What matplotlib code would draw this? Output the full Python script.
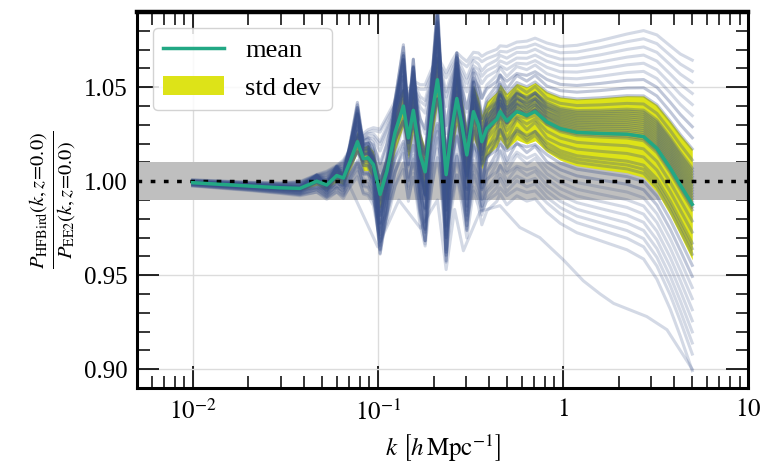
import matplotlib.pyplot as plt
import numpy as np

plt.rcParams['font.family'] = 'serif'
plt.rcParams['font.serif'] = ['Liberation Serif', 'DejaVu Serif']
plt.rcParams['mathtext.fontset'] = 'stix'

# mean ratio, smooth trend and std dev at these k
k_nodes = [0.010, 0.0204, 0.0297, 0.0380, 0.0468, 0.0530, 0.0600, 0.0652, 0.0708, 0.0776,
           0.0836, 0.0886, 0.0947, 0.1029, 0.1118, 0.1240, 0.1375, 0.1463, 0.1556, 0.1693,
           0.1802, 0.1959, 0.2100, 0.2172, 0.2340, 0.2512, 0.2673, 0.2844, 0.3027, 0.3287,
           0.3498, 0.3648, 0.3882, 0.4398, 0.4581, 0.4978, 0.5636, 0.6383, 0.7079, 0.8193,
           0.967, 1.19, 1.59, 2.22, 2.73, 3.22, 3.80, 4.31, 5.00]
mean_ratio = [0.9992, 0.9974, 0.9965, 0.9962, 1.0000, 0.9980, 1.0030, 1.0017, 1.0105, 1.0210,
              1.0120, 1.0125, 1.0088, 0.9930, 1.0050, 1.0260, 1.0400, 1.0230, 1.0377, 1.0140,
              1.0050, 1.0350, 1.0540, 1.0420, 1.0035, 1.0280, 1.0440, 1.0300, 1.0140, 1.0370,
              1.0300, 1.0210, 1.0280, 1.0330, 1.0370, 1.0320, 1.0370, 1.0350, 1.0370, 1.0316,
              1.0280, 1.0260, 1.0254, 1.0250, 1.0237, 1.0175, 1.0070, 0.9980, 0.9877]
trend_ratio = [0.9992, 0.9974, 0.9965, 0.9965, 0.9980, 0.9990, 1.0000, 1.0020, 1.0040, 1.0060,
               1.0080, 1.0090, 1.0100, 1.0110, 1.0130, 1.0150, 1.0170, 1.0180, 1.0190, 1.0210,
               1.0220, 1.0240, 1.0250, 1.0260, 1.0270, 1.0280, 1.0290, 1.0290, 1.0300, 1.0300,
               1.0310, 1.0310, 1.0310, 1.0320, 1.0330, 1.0335, 1.0345, 1.0350, 1.0355, 1.0320,
               1.0280, 1.0260, 1.0254, 1.0250, 1.0237, 1.0175, 1.0070, 0.9980, 0.9877]
std_ratio = [0.0006, 0.0008, 0.0010, 0.0013, 0.0020, 0.0025, 0.0030, 0.0036, 0.0045, 0.0058,
             0.0064, 0.0068, 0.0072, 0.0078, 0.0088, 0.0098, 0.0108, 0.0114, 0.0118, 0.0122,
             0.0126, 0.0130, 0.0132, 0.0134, 0.0136, 0.0138, 0.0140, 0.0141, 0.0142, 0.0143,
             0.0144, 0.0144, 0.0145, 0.0146, 0.0147, 0.0148, 0.0150, 0.0152, 0.0155, 0.0160,
             0.0168, 0.0178, 0.0190, 0.0205, 0.0217, 0.0232, 0.0250, 0.0268, 0.0295]

# each realisation: offset in std units, extra BAO wiggle amplitude
line_offsets = [-3.0, -2.7, -2.5, -2.3, -2.1, -1.9, -1.7, -1.5, -1.3, -1.1,
                -0.9, -0.8, -0.7, -0.5, -0.3, -0.1, -0.05, 0.0, 0.05, 0.1,
                0.15, 0.2, 0.25, 0.3, 0.35, 0.4, 0.45, 0.5, 0.55, 0.6,
                0.65, 0.8, 1.0, 1.2, 1.4, 1.6, 1.8, 2.0, 2.2, 2.4, 2.6]
line_amps = [0.1, -0.2, 0.3, 0.1, 0.6, -0.2, 1.0, 0.4, 1.2, -0.3,
             0.9, 1.3, 0.2, 1.4, 0.5, -0.3, 1.1, 0.7, 1.2, -0.4,
             0.9, 0.3, 1.3, 0.0, 1.0, 0.6, -0.2, 0.8, 1.1, 0.4,
             -0.1, 0.7, 0.2, 0.5, -0.3, 0.0, -0.5, -0.6, -0.6, -0.8, -0.8]

# lowest outlier
low_k = [0.01, 0.03, 0.05, 0.07, 0.1, 0.13, 0.17, 0.21, 0.234, 0.26, 0.29, 0.357,
         0.457, 0.585, 0.75, 1.01, 1.29, 1.59, 1.88, 2.84, 3.65, 5.0]
low_ratio = [0.999, 0.996, 0.996, 0.998, 0.965, 0.990, 0.975, 0.990, 0.953, 0.985, 0.963, 0.984,
             0.987, 0.9754, 0.970, 0.958, 0.947, 0.940, 0.935, 0.928, 0.921, 0.900]

k = np.array(k_nodes)
mean = np.array(mean_ratio)
wiggle = mean - np.array(trend_ratio)
std = np.array(std_ratio)

fig, ax = plt.subplots(figsize=(7.67, 4.66), dpi=100)
fig.subplots_adjust(left=0.1786, right=0.9752, bottom=0.1674, top=0.9742)

ax.set_axisbelow(True)
ax.grid(True, which='major', color='#dcdcdc', lw=1)
ax.axhspan(0.99, 1.01, color='#bfbfbf', lw=0, zorder=0.6)
band = ax.fill_between(k, mean - std, mean + std, color='#dde318', lw=0, zorder=1, label='std dev')
for c, a in zip(line_offsets, line_amps):
    alpha = 0.32 if abs(c) < 1.5 else 0.22
    ax.plot(k, mean + a * wiggle + c * std, color='#3b528b', alpha=alpha, lw=2.2, zorder=2)
ax.plot(low_k, low_ratio, color='#3b528b', alpha=0.22, lw=2.2, zorder=2)
ax.axhline(1.0, color='k', ls=(0, (1.35, 2.45)), lw=2.5, zorder=3)
mline, = ax.plot(k, mean, color='#22a884', lw=2.5, zorder=4, label='mean')

ax.set_xscale('log')
ax.set_xlim(5e-3, 10)
ax.set_ylim(0.8905, 1.088)
ax.set_xticks([1e-2, 1e-1, 1, 10])
ax.set_xticklabels([r'$10^{-2}$', r'$10^{-1}$', r'$1$', r'$10$'])
ax.set_yticks([0.90, 0.95, 1.00, 1.05])
ax.set_yticklabels(['0.90', '0.95', '1.00', '1.05'])
ax.set_yticks(np.arange(0.89, 1.09, 0.01), minor=True)

ax.tick_params(which='both', direction='in', top=True, right=True, labelsize=18)
ax.tick_params(which='major', length=16, width=1.2)
ax.tick_params(which='minor', length=9, width=1.1)
ax.tick_params(axis='x', which='major', pad=8)
ax.tick_params(axis='y', which='major', pad=7)
for s in ax.spines.values():
    s.set_linewidth(2.2)
ax.spines['top'].set_linewidth(3.2)

ax.set_xlabel(r'$k\ \left[h\,\mathrm{Mpc}^{-1}\right]$', fontsize=18, labelpad=6)
ax.set_ylabel(r'$\frac{P_{\mathrm{HFBird}}(k,z\!=\!0.0)}{P_{\mathrm{EE2}}(k,z\!=\!0.0)}$', fontsize=21, labelpad=4)

ax.legend([mline, band], ['mean', 'std dev'], loc='upper left', fontsize=19, handlelength=2.3,
          framealpha=0.85, edgecolor='#cccccc', borderaxespad=0.6, labelspacing=0.55)

plt.savefig('out.png', dpi=100)
